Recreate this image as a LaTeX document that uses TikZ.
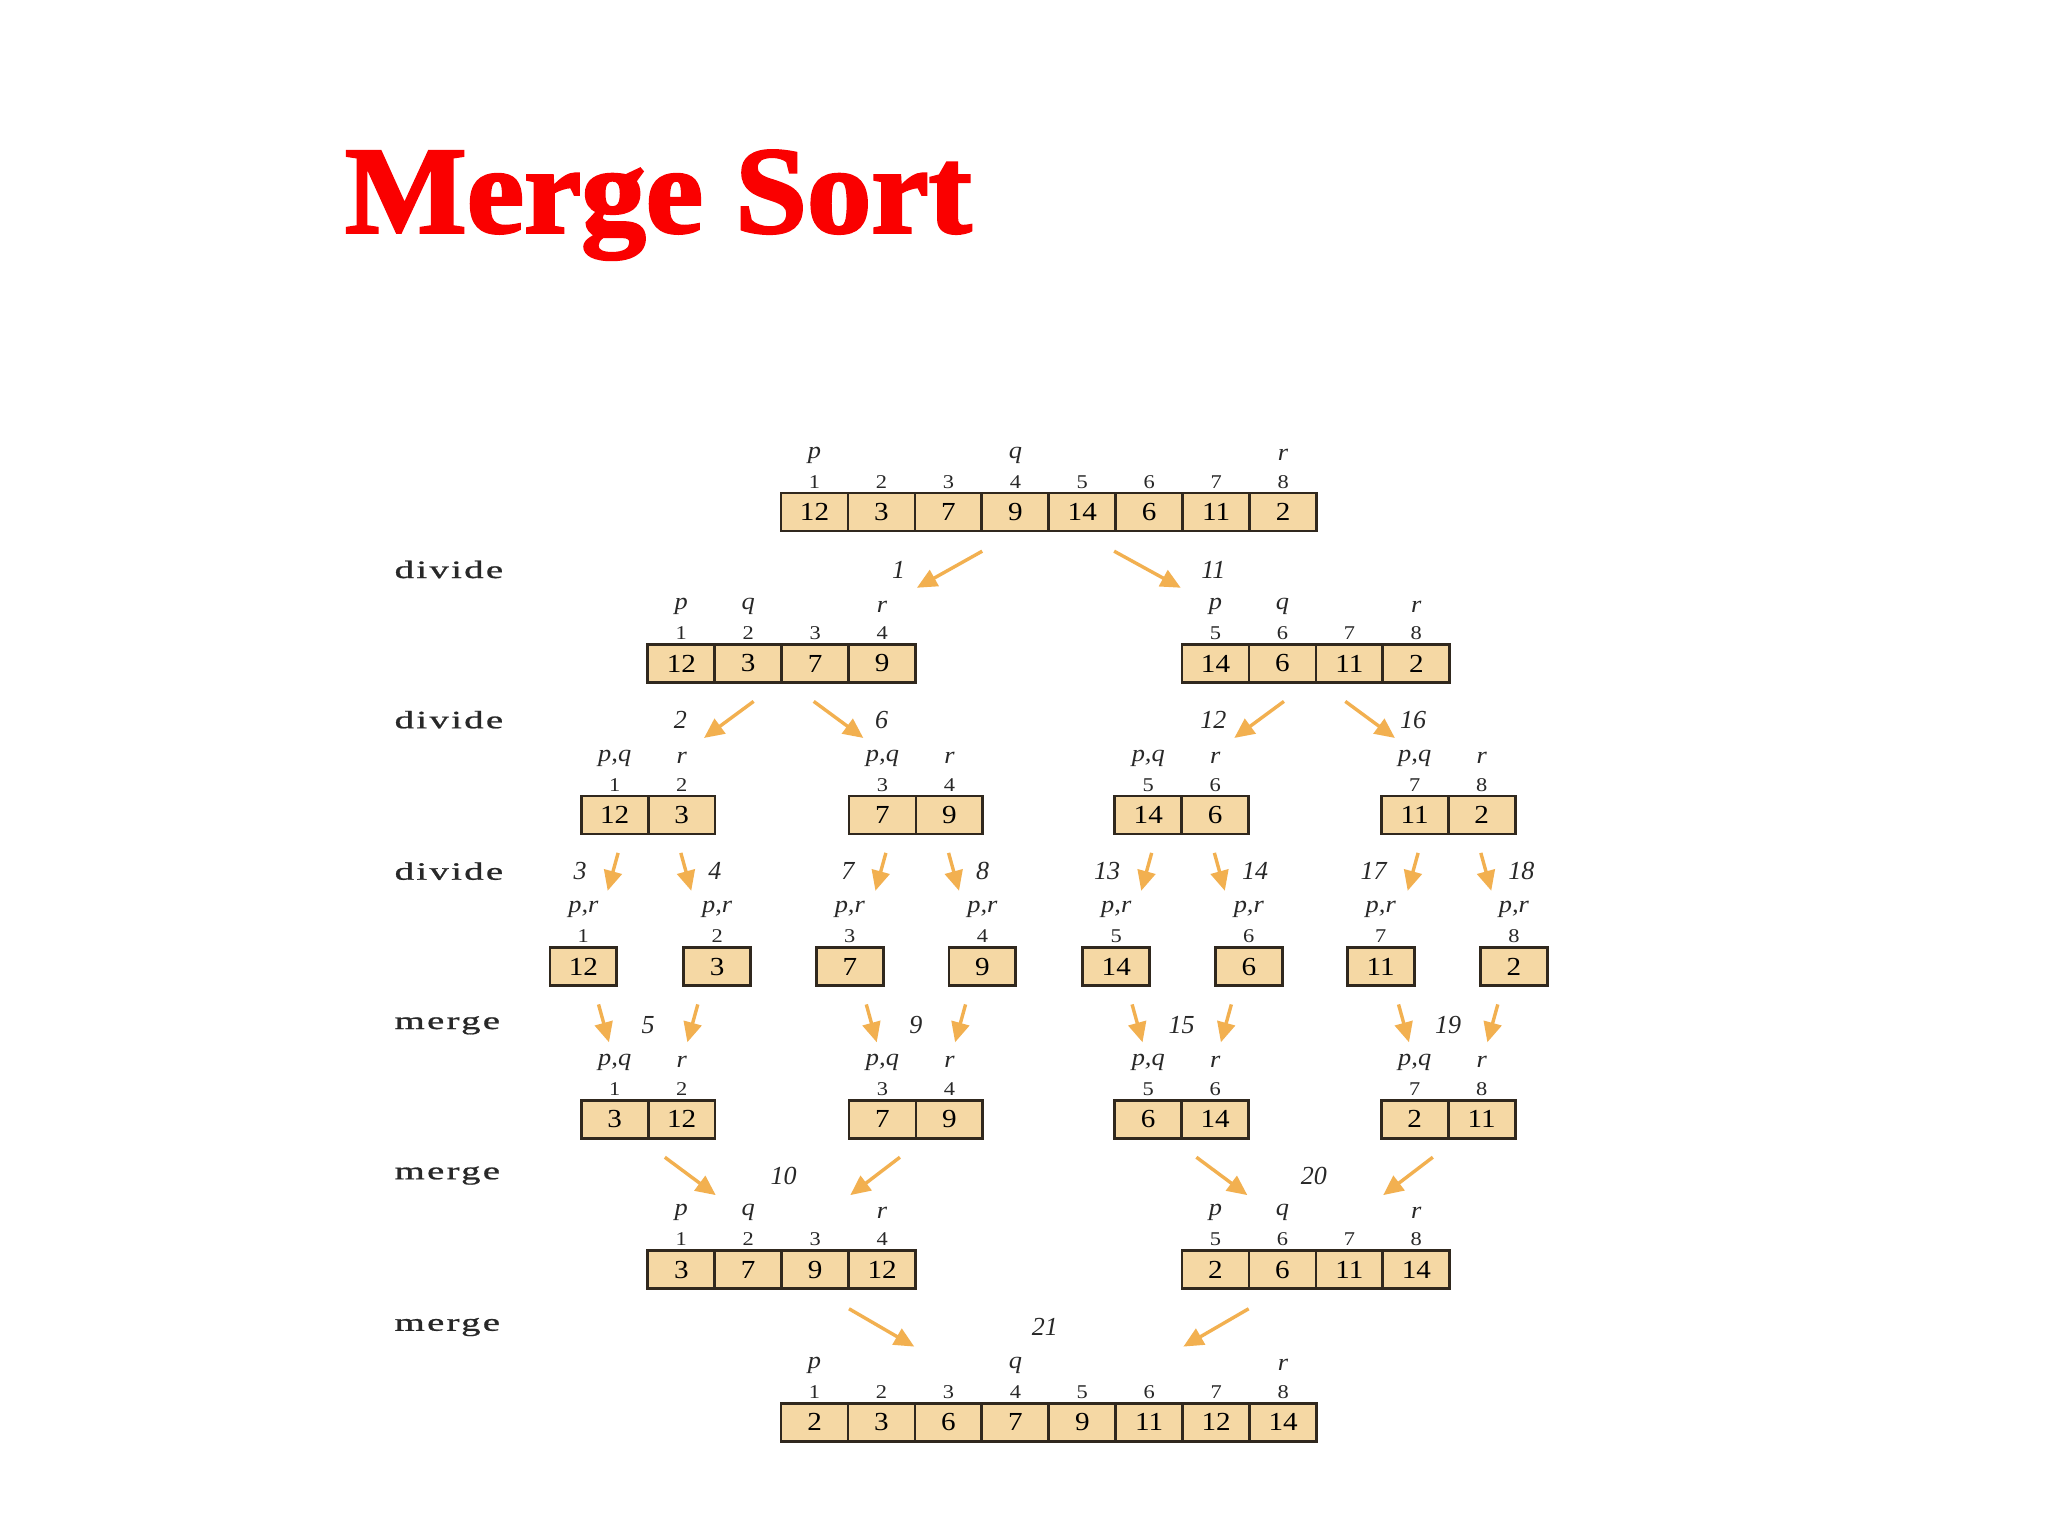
\documentclass[tikz,border=0pt]{standalone}
\usepackage{fontspec}
\setmainfont{Liberation Serif}
\usetikzlibrary{arrows.meta}
\definecolor{cellfill}{RGB}{245,216,164}
\definecolor{celldraw}{RGB}{48,40,30}
\definecolor{arrowc}{RGB}{242,176,80}
\definecolor{titlered}{RGB}{250,0,0}
\definecolor{txt}{RGB}{40,40,40}

\newcommand{\mkarray}[4]{%
  \foreach \ix/\vl [count=\k] in {#4} {%
    \node[cellbox] (#1-\k) at ({#2+(\k-0.5)*51.25},#3) {\scalebox{1.12}[1]{\vl}};
    \node[idxlab] (#1-i\k) at ({#2+(\k-0.5)*51.25},{#3-23}) {\scalebox{1.15}[1]{\ix}};
  }}
\newcommand{\mkvar}[3]{\node[varlab] (#1-v#2) at ([yshift=27pt]#1-i#2.center) {\scalebox{1.1}[1]{#3}};}
\newcommand{\mkflow}[5]{%
  \coordinate (#1s) at (#2,#3);
  \coordinate (#1e) at (#4,#5);
  \draw[flowarr] (#1s) -- (#1e);}

\tikzset{
  cellbox/.style={draw=celldraw, line width=2.8pt, fill=cellfill, minimum width=66.9pt,
    minimum height=37.9pt, inner sep=0pt, font=\fontsize{26}{26}\selectfont, text=black},
  idxlab/.style={inner sep=0pt, font=\fontsize{19.5}{19.5}\selectfont, text=txt},
  varlab/.style={inner sep=0pt, font=\fontsize{24}{24}\selectfont\itshape, text=txt},
  steplab/.style={inner sep=0pt, font=\fontsize{26}{26}\selectfont\itshape, text=txt},
  phaselab/.style={inner sep=0pt, anchor=west, font=\fontsize{25}{25}\selectfont, text=txt},
  flowarr/.style={draw=arrowc, line width=3.4pt, -{Triangle[length=20pt,width=18pt,color=arrowc]}},
}

\begin{document}
\begin{tikzpicture}[x=1.30612pt,y=-1.30612pt]
\useasboundingbox[fill=white] (0,0) rectangle (1568,1176);

% title
\node[anchor=base west, inner sep=0pt, text=titlered,
  font=\fontsize{124}{124}\selectfont\bfseries] (title) at (264,178)
  {\scalebox{1.04}[1]{\addfontfeature{FakeBold=2.2}Merge Sort}};

% phase labels
\foreach \yy/\phtxt [count=\j] in {436/divide,551/divide,667/divide,785/merge,900/merge,1016/merge}
  \node[phaselab] (phase\j) at (302,\yy) {\scalebox{1.55}[1]{\addfontfeature{LetterSpace=6,FakeBold=0.8}\phtxt}};

% row 0
\mkarray{A}{598}{392}{1/12,2/3,3/7,4/9,5/14,6/6,7/11,8/2}
\mkvar{A}{1}{p}\mkvar{A}{4}{q}\mkvar{A}{8}{r}

% row 1
\mkarray{BL}{496}{508}{1/12,2/3,3/7,4/9}
\mkvar{BL}{1}{p}\mkvar{BL}{2}{q}\mkvar{BL}{4}{r}
\mkarray{BR}{905}{508}{5/14,6/6,7/11,8/2}
\mkvar{BR}{1}{p}\mkvar{BR}{2}{q}\mkvar{BR}{4}{r}

% row 2
\mkarray{C1}{445}{624}{1/12,2/3}
\mkarray{C2}{650}{624}{3/7,4/9}
\mkarray{C3}{853.5}{624}{5/14,6/6}
\mkarray{C4}{1057.5}{624}{7/11,8/2}
\foreach \n in {C1,C2,C3,C4} {\mkvar{\n}{1}{p,q}\mkvar{\n}{2}{r}}

% row 3
\mkarray{D1}{421}{740}{1/12}
\mkarray{D2}{523.5}{740}{2/3}
\mkarray{D3}{625}{740}{3/7}
\mkarray{D4}{726.5}{740}{4/9}
\mkarray{D5}{829}{740}{5/14}
\mkarray{D6}{930.5}{740}{6/6}
\mkarray{D7}{1031.5}{740}{7/11}
\mkarray{D8}{1133.5}{740}{8/2}
\foreach \n in {D1,D2,D3,D4,D5,D6,D7,D8} {\mkvar{\n}{1}{p,r}}

% row 4
\mkarray{E1}{445}{857}{1/3,2/12}
\mkarray{E2}{650}{857}{3/7,4/9}
\mkarray{E3}{853.5}{857}{5/6,6/14}
\mkarray{E4}{1057.5}{857}{7/2,8/11}
\foreach \n in {E1,E2,E3,E4} {\mkvar{\n}{1}{p,q}\mkvar{\n}{2}{r}}

% row 5
\mkarray{FL}{496}{972}{1/3,2/7,3/9,4/12}
\mkvar{FL}{1}{p}\mkvar{FL}{2}{q}\mkvar{FL}{4}{r}
\mkarray{FR}{905}{972}{5/2,6/6,7/11,8/14}
\mkvar{FR}{1}{p}\mkvar{FR}{2}{q}\mkvar{FR}{4}{r}

% row 6
\mkarray{G}{598}{1089}{1/2,2/3,3/6,4/7,5/9,6/11,7/12,8/14}
\mkvar{G}{1}{p}\mkvar{G}{4}{q}\mkvar{G}{8}{r}

% ---- arrows and step numbers ----
% divide level 1
\mkflow{f1}{752}{422}{702}{450}
\node[steplab] (s1) at (688,436) {1};
\mkflow{f11}{853}{422}{904}{450}
\node[steplab] (s11) at (929,436) {11};

% divide level 2
\mkflow{f2}{577}{537}{539}{565}
\node[steplab] (s2) at (521,551) {2};
\mkflow{f6}{623}{537}{661}{565}
\node[steplab] (s6) at (675,551) {6};
\mkflow{f12}{983}{537}{945}{565}
\node[steplab] (s12) at (929,551) {12};
\mkflow{f16}{1030}{537}{1068}{565}
\node[steplab] (s16) at (1082,551) {16};

% divide level 3
\foreach \cc/\la/\lb in {496.25/3/4,701.25/7/8,904.75/13/14,1108.75/17/18} {
  \mkflow{fl\la}{\cc-23}{653}{\cc-31}{682}
  \node[steplab, anchor=east] (s\la) at ({\cc-47},667) {\la};
  \mkflow{fr\lb}{\cc+25}{653}{\cc+33}{682}
  \node[steplab, anchor=west] (s\lb) at ({\cc+46},667) {\lb};
}

% merge level 1
\foreach \cc/\la in {496.25/5,701.25/9,904.75/15,1108.75/19} {
  \mkflow{ml\la}{\cc-38}{769}{\cc-30}{798}
  \mkflow{mr\la}{\cc+38}{769}{\cc+30}{798}
  \node[steplab] (s\la) at (\cc,785) {\la};
}

% merge level 2
\mkflow{m10a}{509}{886}{548}{915}
\mkflow{m10b}{689}{886}{651}{915}
\node[steplab] (s10) at (600,900) {10};
\mkflow{m20a}{916}{886}{955}{915}
\mkflow{m20b}{1097}{886}{1059}{915}
\node[steplab] (s20) at (1006,900) {20};

% merge level 3
\mkflow{m21a}{650}{1002}{700}{1031}
\mkflow{m21b}{956}{1002}{906}{1031}
\node[steplab] (s21) at (800,1016) {21};

\end{tikzpicture}
\end{document}
